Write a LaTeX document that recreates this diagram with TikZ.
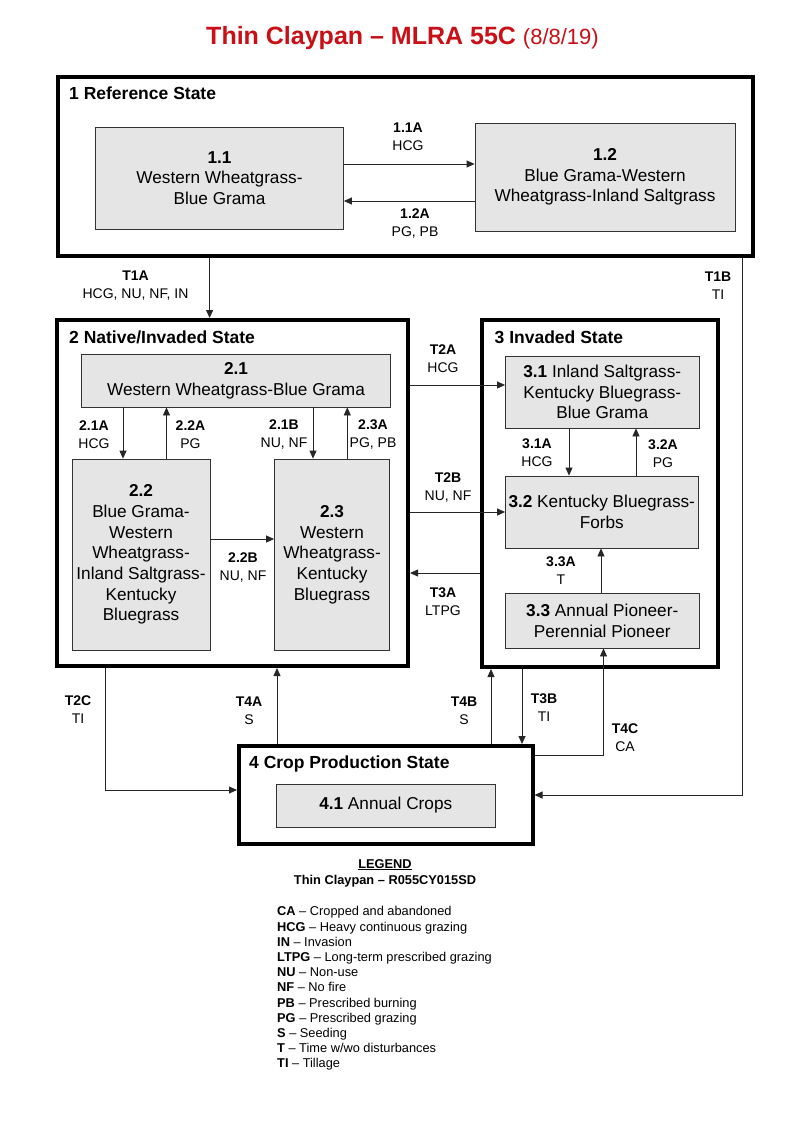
\documentclass[tikz,border=0pt]{standalone}
\usepackage{fontspec}
\setmainfont{Liberation Sans}
\usetikzlibrary{arrows.meta}
\definecolor{titlered}{RGB}{200,16,22}
\newcommand\boxfont{\fontsize{17.2}{20.7}\selectfont}
\newcommand\labfont{\fontsize{14}{18}\selectfont}
\newcommand\statefont{\fontsize{17.5}{21}\selectfont\bfseries}
\newcommand\legfont{\fontsize{12.8}{15.2}\selectfont}

\begin{document}
\begin{tikzpicture}
	[x=1pt,y=-1pt,
	statebox/.style={draw,line width=4pt},
	phase/.style={draw=black!80,fill=gray!20,line width=0.8pt,inner sep=0.5pt,align=center,font=\boxfont},
	statename/.style={anchor=base west,inner sep=0,font=\statefont},
	tlab/.style={align=center,inner sep=0,font=\labfont},
	trans/.style={draw=black!85,line width=0.8pt,-{Triangle[length=8pt,width=7pt]}}]

\useasboundingbox (0,0) rectangle (800,1143);

	\node[font=\fontsize{25}{30}\selectfont\bfseries,text=titlered] (title) at (402.5,38) {Thin Claypan – MLRA 55C {\mdseries\fontsize{22}{30}\selectfont(8/8/19)}};

	% states
	\node[statebox,minimum width=695pt,minimum height=179pt] (s1) at (405.5,166.5) {};
	\node[statebox,minimum width=351pt,minimum height=346pt] (s2) at (232.5,493) {};
	\node[statebox,minimum width=236pt,minimum height=347pt] (s3) at (600,493.5) {};
	\node[statebox,minimum width=293.5pt,minimum height=98pt] (s4) at (385.75,795) {};
	\node[statename] (n1) at (69,99) {1 Reference State};
	\node[statename] (n2) at (69,343) {2 Native/Invaded State};
	\node[statename] (n3) at (494.5,343) {3 Invaded State};
	\node[statename] (n4) at (249,768) {4 Crop Production State};

	% community phases
	\node[phase,minimum width=248pt,minimum height=102pt] (p11) at (219.5,178) {\textbf{1.1}\\Western Wheatgrass-\\Blue Grama};
	\node[phase,minimum width=260pt,minimum height=108pt] (p12) at (605,177) {\textbf{1.2}\\Blue Grama-Western\\Wheatgrass-Inland Saltgrass};
	\node[phase,minimum width=309pt,minimum height=53pt] (p21) at (236,380.5) {\textbf{2.1}\\Western Wheatgrass-Blue Grama};
	\node[phase,minimum width=138pt,minimum height=191pt] (p22) at (141,554.5) {\textbf{2.2}\\Blue Grama-\\Western\\Wheatgrass-\\Inland Saltgrass-\\Kentucky\\Bluegrass};
	\node[phase,minimum width=115pt,minimum height=191pt] (p23) at (332,554.5) {\textbf{2.3}\\Western\\Wheatgrass-\\Kentucky\\Bluegrass};
	\node[phase,minimum width=193.5pt,minimum height=72pt] (p31) at (602.25,392) {\textbf{3.1} Inland Saltgrass-\\Kentucky Bluegrass-\\Blue Grama};
	\node[phase,minimum width=192.5pt,minimum height=72pt] (p32) at (601.75,512) {\textbf{3.2} Kentucky Bluegrass-\\Forbs};
	\node[phase,minimum width=193.5pt,minimum height=55pt] (p33) at (602.25,620.5) {\textbf{3.3} Annual Pioneer-\\Perennial Pioneer};
	\node[phase,minimum width=219.5pt,minimum height=43pt] (p41) at (385.75,805.5) {\textbf{4.1} Annual Crops};

	% where the connectors run
	\coordinate (k11A) at (0,164);
	\coordinate (k12A) at (0,201);
	\coordinate (k21A) at (123,0);
	\coordinate (k22A) at (166.5,0);
	\coordinate (k21B) at (313,0);
	\coordinate (k23A) at (347.3,0);
	\coordinate (k22B) at (0,539);
	\coordinate (k31A) at (569,0);
	\coordinate (k32A) at (636,0);
	\coordinate (k33A) at (601,0);
	\coordinate (kT1A) at (209.6,0);
	\coordinate (kT1B) at (742,795);
	\coordinate (kT2A) at (0,385);
	\coordinate (kT2B) at (0,512);
	\coordinate (kT3A) at (0,573);
	\coordinate (kT2C) at (105.8,790);
	\coordinate (kT4A) at (277,0);
	\coordinate (kT4B) at (491,0);
	\coordinate (kT3B) at (522,0);
	\coordinate (kT4C) at (603.5,755);

	\draw[trans] (p11.east |- k11A) -- (p12.west |- k11A);
	\draw[trans] (p12.west |- k12A) -- (p11.east |- k12A);
	\draw[trans] (p21.south -| k21A) -- (p22.north -| k21A);
	\draw[trans] (p22.north -| k22A) -- (p21.south -| k22A);
	\draw[trans] (p21.south -| k21B) -- (p23.north -| k21B);
	\draw[trans] (p23.north -| k23A) -- (p21.south -| k23A);
	\draw[trans] (p22.east |- k22B) -- (p23.west |- k22B);
	\draw[trans] (p31.south -| k31A) -- (p32.north -| k31A);
	\draw[trans] (p32.north -| k32A) -- (p31.south -| k32A);
	\draw[trans] (p33.north -| k33A) -- (p32.south -| k33A);
	\draw[trans] (s1.south -| kT1A) -- (s2.north -| kT1A);
	\draw[trans] (s1.south -| kT1B) -- (kT1B) -- (s4.east |- kT1B);
	\draw[trans] (s2.east |- kT2A) -- (p31.west |- kT2A);
	\draw[trans] (s2.east |- kT2B) -- (p32.west |- kT2B);
	\draw[trans] (s3.west |- kT3A) -- (s2.east |- kT3A);
	\draw[trans] (s2.south -| kT2C) -- (kT2C) -- (s4.west |- kT2C);
	\draw[trans] (s4.north -| kT4A) -- (s2.south -| kT4A);
	\draw[trans] (s4.north -| kT4B) -- (s3.south -| kT4B);
	\draw[trans] (s3.south -| kT3B) -- (s4.north -| kT3B);
	\draw[trans] (s4.east |- kT4C) -- (kT4C) -- (p33.south -| kT4C);

	% transition labels
	\node[tlab] (l11A) at (408,137) {\textbf{1.1A}\\HCG};
	\node[tlab] (l12A) at (415,224) {\textbf{1.2A}\\PG, PB};
	\node[tlab] (l21A) at (94,435) {\textbf{2.1A}\\HCG};
	\node[tlab] (l22A) at (190.5,435) {\textbf{2.2A}\\PG};
	\node[tlab] (l21B) at (284,435) {\textbf{2.1B}\\NU, NF};
	\node[tlab] (l23A) at (373,435) {\textbf{2.3A}\\PG, PB};
	\node[tlab] (l22B) at (243,567.5) {\textbf{2.2B}\\NU, NF};
	\node[tlab] (l31A) at (537,452.5) {\textbf{3.1A}\\HCG};
	\node[tlab] (l32A) at (663,454) {\textbf{3.2A}\\PG};
	\node[tlab] (l33A) at (561,570.5) {\textbf{3.3A}\\T};
	\node[tlab] (lT1A) at (135.5,286) {\textbf{T1A}\\HCG, NU, NF, IN};
	\node[tlab] (lT1B) at (718,286) {\textbf{T1B}\\TI};
	\node[tlab] (lT2A) at (443,358.5) {\textbf{T2A}\\HCG};
	\node[tlab] (lT2B) at (448,488) {\textbf{T2B}\\NU, NF};
	\node[tlab] (lT3A) at (443,601.5) {\textbf{T3A}\\LTPG};
	\node[tlab] (lT2C) at (78,709.5) {\textbf{T2C}\\TI};
	\node[tlab] (lT4A) at (249,710.5) {\textbf{T4A}\\S};
	\node[tlab] (lT4B) at (464,710.5) {\textbf{T4B}\\S};
	\node[tlab] (lT3B) at (544,707.5) {\textbf{T3B}\\TI};
	\node[tlab] (lT4C) at (625,737.5) {\textbf{T4C}\\CA};

	% legend
	\node[align=center,inner sep=0,font=\fontsize{12.8}{16}\selectfont\bfseries] (leghead) at (385,873) {\underline{LEGEND}\\Thin Claypan – R055CY015SD};
	\node[align=left,inner sep=0,anchor=north west,font=\legfont] (legend) at (277,906.5) {\textbf{CA} – Cropped and abandoned\\\textbf{HCG} – Heavy continuous grazing\\\textbf{IN} – Invasion\\\textbf{LTPG} – Long-term prescribed grazing\\\textbf{NU} – Non-use\\\textbf{NF} – No fire\\\textbf{PB} – Prescribed burning\\\textbf{PG} – Prescribed grazing\\\textbf{S} – Seeding\\\textbf{T} – Time w/wo disturbances\\\textbf{TI} – Tillage};
\end{tikzpicture}
\end{document}
